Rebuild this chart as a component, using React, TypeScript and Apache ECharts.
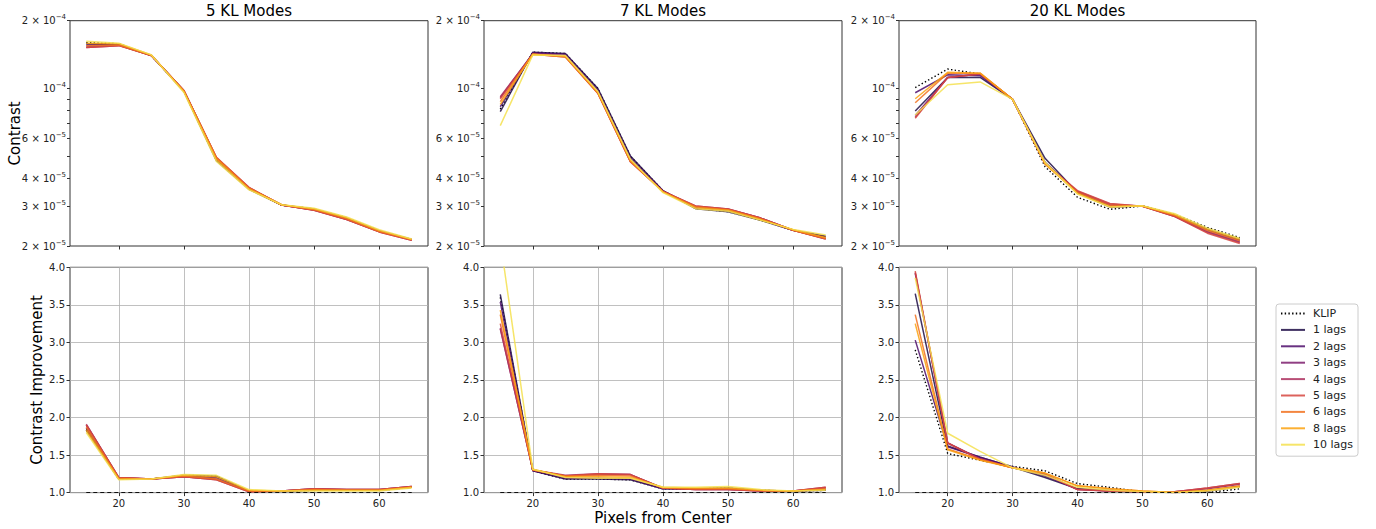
import React, { useEffect, useRef } from 'react';
import * as echarts from 'echarts';

const radii = [15, 20, 25, 30, 35, 40, 45, 50, 55, 60, 65];
const seriesNames = ['KLIP', '1 lags', '2 lags', '3 lags', '4 lags', '5 lags', '6 lags', '8 lags', '10 lags'];
const lineColors = ['#000000', '#1d0c45', '#4d0d6b', '#7d1d6d', '#ab2f5e', '#d6473f', '#f1711f', '#fca20f', '#f4e04f'];
const panelTitles = ['5 KL Modes', '7 KL Modes', '20 KL Modes'];
const contrastLabelTicks = [2e-5, 3e-5, 4e-5, 6e-5, 1e-4, 2e-4];
const contrastAllTicks = [2e-5, 3e-5, 4e-5, 5e-5, 6e-5, 7e-5, 8e-5, 9e-5, 1e-4, 2e-4];
const contrastMin = 2e-5;
const contrastMax = 2e-4;
const improvementMin = 1.0;
const improvementMax = 4.0;
const improvementStep = 0.5;
const xTicks = [20, 30, 40, 50, 60];
const xMin = 12.5;
const xMax = 67.5;
const baselineLevel = 1.0;

// Contrast curves (rows follow seriesNames)
const contrast5KL = [
  [1.60e-4, 1.58e-4, 1.40e-4, 9.75e-5, 4.80e-5, 3.58e-5, 3.04e-5, 2.92e-5, 2.67e-5, 2.34e-5, 2.14e-5],
  [1.58e-4, 1.57e-4, 1.40e-4, 9.72e-5, 4.78e-5, 3.57e-5, 3.04e-5, 2.92e-5, 2.66e-5, 2.34e-5, 2.14e-5],
  [1.56e-4, 1.57e-4, 1.40e-4, 9.75e-5, 4.85e-5, 3.60e-5, 3.04e-5, 2.90e-5, 2.65e-5, 2.33e-5, 2.13e-5],
  [1.53e-4, 1.56e-4, 1.40e-4, 9.78e-5, 4.90e-5, 3.62e-5, 3.04e-5, 2.89e-5, 2.63e-5, 2.32e-5, 2.13e-5],
  [1.52e-4, 1.55e-4, 1.40e-4, 9.80e-5, 4.93e-5, 3.63e-5, 3.04e-5, 2.88e-5, 2.62e-5, 2.31e-5, 2.12e-5],
  [1.52e-4, 1.55e-4, 1.40e-4, 9.80e-5, 4.95e-5, 3.64e-5, 3.04e-5, 2.88e-5, 2.62e-5, 2.31e-5, 2.12e-5],
  [1.55e-4, 1.56e-4, 1.40e-4, 9.78e-5, 4.92e-5, 3.62e-5, 3.05e-5, 2.90e-5, 2.64e-5, 2.32e-5, 2.13e-5],
  [1.59e-4, 1.58e-4, 1.41e-4, 9.70e-5, 4.85e-5, 3.58e-5, 3.05e-5, 2.92e-5, 2.67e-5, 2.34e-5, 2.14e-5],
  [1.62e-4, 1.59e-4, 1.41e-4, 9.60e-5, 4.75e-5, 3.55e-5, 3.05e-5, 2.94e-5, 2.69e-5, 2.36e-5, 2.15e-5],
];
const contrast7KL = [
  [8.10e-5, 1.45e-4, 1.43e-4, 1.00e-4, 5.00e-5, 3.52e-5, 2.94e-5, 2.84e-5, 2.60e-5, 2.35e-5, 2.20e-5],
  [7.90e-5, 1.45e-4, 1.43e-4, 1.00e-4, 5.02e-5, 3.52e-5, 2.93e-5, 2.84e-5, 2.60e-5, 2.35e-5, 2.21e-5],
  [8.30e-5, 1.44e-4, 1.42e-4, 9.85e-5, 4.92e-5, 3.51e-5, 2.95e-5, 2.86e-5, 2.62e-5, 2.35e-5, 2.19e-5],
  [9.10e-5, 1.43e-4, 1.40e-4, 9.60e-5, 4.78e-5, 3.50e-5, 2.99e-5, 2.91e-5, 2.66e-5, 2.35e-5, 2.16e-5],
  [9.20e-5, 1.42e-4, 1.39e-4, 9.55e-5, 4.74e-5, 3.50e-5, 3.01e-5, 2.92e-5, 2.66e-5, 2.35e-5, 2.15e-5],
  [9.00e-5, 1.42e-4, 1.38e-4, 9.50e-5, 4.72e-5, 3.49e-5, 3.01e-5, 2.92e-5, 2.66e-5, 2.35e-5, 2.15e-5],
  [8.75e-5, 1.42e-4, 1.38e-4, 9.52e-5, 4.74e-5, 3.48e-5, 2.99e-5, 2.90e-5, 2.64e-5, 2.35e-5, 2.16e-5],
  [8.50e-5, 1.42e-4, 1.39e-4, 9.60e-5, 4.80e-5, 3.47e-5, 2.96e-5, 2.88e-5, 2.62e-5, 2.36e-5, 2.18e-5],
  [6.84e-5, 1.41e-4, 1.40e-4, 9.70e-5, 4.85e-5, 3.45e-5, 2.93e-5, 2.85e-5, 2.60e-5, 2.37e-5, 2.24e-5],
];
const contrast20KL = [
  [1.01e-4, 1.22e-4, 1.16e-4, 8.95e-5, 4.50e-5, 3.29e-5, 2.91e-5, 3.01e-5, 2.76e-5, 2.42e-5, 2.18e-5],
  [7.95e-5, 1.12e-4, 1.12e-4, 8.95e-5, 4.90e-5, 3.45e-5, 2.98e-5, 3.01e-5, 2.74e-5, 2.38e-5, 2.15e-5],
  [9.58e-5, 1.15e-4, 1.14e-4, 8.95e-5, 4.70e-5, 3.45e-5, 3.00e-5, 3.01e-5, 2.73e-5, 2.36e-5, 2.12e-5],
  [7.60e-5, 1.12e-4, 1.16e-4, 8.95e-5, 4.68e-5, 3.48e-5, 3.04e-5, 3.01e-5, 2.71e-5, 2.32e-5, 2.09e-5],
  [7.45e-5, 1.12e-4, 1.16e-4, 8.95e-5, 4.66e-5, 3.50e-5, 3.07e-5, 3.00e-5, 2.70e-5, 2.30e-5, 2.07e-5],
  [7.38e-5, 1.12e-4, 1.16e-4, 8.95e-5, 4.64e-5, 3.52e-5, 3.09e-5, 3.00e-5, 2.70e-5, 2.28e-5, 2.05e-5],
  [8.65e-5, 1.17e-4, 1.17e-4, 8.95e-5, 4.62e-5, 3.46e-5, 3.03e-5, 3.01e-5, 2.73e-5, 2.34e-5, 2.11e-5],
  [9.01e-5, 1.18e-4, 1.17e-4, 8.95e-5, 4.64e-5, 3.42e-5, 2.99e-5, 3.01e-5, 2.75e-5, 2.37e-5, 2.14e-5],
  [7.63e-5, 1.04e-4, 1.07e-4, 8.95e-5, 4.70e-5, 3.40e-5, 2.98e-5, 3.02e-5, 2.78e-5, 2.40e-5, 2.16e-5],
];

// Contrast improvement curves (rows follow seriesNames)
const improvement5KL = [
  [1.84, 1.18, 1.18, 1.23, 1.22, 1.02, 1.02, 1.03, 1.03, 1.03, 1.07],
  [1.83, 1.18, 1.18, 1.23, 1.22, 1.02, 1.02, 1.03, 1.03, 1.03, 1.07],
  [1.86, 1.19, 1.18, 1.22, 1.20, 1.02, 1.02, 1.04, 1.03, 1.03, 1.07],
  [1.90, 1.20, 1.18, 1.21, 1.18, 1.02, 1.02, 1.05, 1.04, 1.04, 1.08],
  [1.91, 1.20, 1.18, 1.21, 1.17, 1.01, 1.02, 1.05, 1.04, 1.04, 1.08],
  [1.90, 1.20, 1.18, 1.21, 1.17, 1.01, 1.02, 1.05, 1.04, 1.04, 1.08],
  [1.87, 1.19, 1.18, 1.22, 1.18, 1.02, 1.02, 1.04, 1.03, 1.03, 1.07],
  [1.83, 1.18, 1.18, 1.23, 1.21, 1.03, 1.02, 1.03, 1.03, 1.03, 1.07],
  [1.80, 1.17, 1.18, 1.24, 1.23, 1.04, 1.02, 1.02, 1.02, 1.02, 1.06],
];
const improvement7KL = [
  [3.60, 1.29, 1.18, 1.18, 1.17, 1.05, 1.05, 1.06, 1.03, 1.02, 1.03],
  [3.64, 1.29, 1.18, 1.18, 1.17, 1.05, 1.05, 1.06, 1.03, 1.02, 1.03],
  [3.54, 1.29, 1.19, 1.19, 1.18, 1.05, 1.05, 1.05, 1.03, 1.02, 1.04],
  [3.19, 1.30, 1.22, 1.24, 1.24, 1.06, 1.04, 1.04, 1.02, 1.02, 1.06],
  [3.18, 1.30, 1.23, 1.25, 1.24, 1.06, 1.04, 1.04, 1.02, 1.02, 1.07],
  [3.25, 1.30, 1.22, 1.25, 1.24, 1.06, 1.04, 1.04, 1.02, 1.02, 1.07],
  [3.37, 1.30, 1.22, 1.23, 1.22, 1.06, 1.05, 1.05, 1.03, 1.02, 1.05],
  [3.43, 1.31, 1.21, 1.21, 1.20, 1.07, 1.06, 1.06, 1.03, 1.02, 1.04],
  [4.36, 1.31, 1.20, 1.19, 1.19, 1.07, 1.07, 1.08, 1.04, 1.02, 1.03],
];
const improvement20KL = [
  [2.90, 1.52, 1.43, 1.35, 1.29, 1.12, 1.07, 1.01, 1.00, 1.00, 1.05],
  [3.65, 1.62, 1.47, 1.34, 1.20, 1.05, 1.02, 1.01, 1.00, 1.02, 1.08],
  [3.03, 1.61, 1.47, 1.34, 1.22, 1.05, 1.03, 1.01, 1.00, 1.02, 1.08],
  [3.92, 1.66, 1.45, 1.33, 1.24, 1.04, 1.02, 1.01, 1.01, 1.05, 1.11],
  [3.93, 1.66, 1.45, 1.33, 1.25, 1.04, 1.02, 1.01, 1.01, 1.06, 1.12],
  [3.95, 1.66, 1.44, 1.33, 1.25, 1.04, 1.02, 1.01, 1.01, 1.06, 1.12],
  [3.37, 1.58, 1.44, 1.33, 1.26, 1.09, 1.05, 1.02, 1.00, 1.03, 1.09],
  [3.25, 1.57, 1.43, 1.33, 1.26, 1.09, 1.05, 1.02, 1.00, 1.03, 1.08],
  [3.86, 1.79, 1.55, 1.33, 1.23, 1.07, 1.03, 1.01, 1.00, 1.02, 1.07],
];

const contrastPanels = [contrast5KL, contrast7KL, contrast20KL];
const improvementPanels = [improvement5KL, improvement7KL, improvement20KL];

const FONT = '"DejaVu Sans", sans-serif';
const gridLefts = [70, 484, 899];
const gridWidths = [358, 358, 357];
const topRowTop = 20.7;
const bottomRowTop = 267.3;
const rowHeight = 225.3;

function logTickLabel(v: number): string {
  const e = Math.floor(v + 1e-9);
  const m = Math.round(Math.pow(10, v - e));
  const exp = '\u2212' + Math.abs(e);
  return m === 1 ? `{b|10}{s|${exp}}` : `{b|${m} \u00d7 10}{s|${exp}}`;
}

function buildOption() {
  const grids: any[] = [];
  const xAxes: any[] = [];
  const yAxes: any[] = [];
  const series: any[] = [];
  const axisColor = '#222';
  for (let row = 0; row < 2; row++) {
    for (let p = 0; p < 3; p++) {
      grids.push({
        left: gridLefts[p],
        width: gridWidths[p],
        top: row === 0 ? topRowTop : bottomRowTop,
        height: rowHeight,
        show: true,
        borderColor: '#333',
        borderWidth: 1,
        backgroundColor: 'transparent',
        containLabel: false,
      });
      const idx = row * 3 + p;
      xAxes.push({
        type: 'value',
        gridIndex: idx,
        min: xMin,
        max: xMax,
        axisLine: { show: false },
        axisTick: { show: true, length: 3.5, customValues: xTicks, lineStyle: { color: '#333' } },
        axisLabel: {
          show: row === 1,
          customValues: xTicks,
          fontSize: 10,
          fontFamily: FONT,
          color: axisColor,
          margin: 6,
        },
        splitLine: { show: row === 1, lineStyle: { color: '#b0b0b0', width: 0.8 } },
      });
      if (row === 0) {
        yAxes.push({
          type: 'value',
          gridIndex: idx,
          min: Math.log10(contrastMin),
          max: Math.log10(contrastMax),
          axisLine: { show: false },
          axisTick: {
            show: true,
            length: 3,
            customValues: contrastAllTicks.map((t) => Math.log10(t)),
            lineStyle: { color: '#333' },
          },
          axisLabel: {
            customValues: contrastLabelTicks.map((t) => Math.log10(t)),
            formatter: (v: number) => logTickLabel(v),
            margin: 4,
            color: axisColor,
            fontFamily: FONT,
            rich: {
              b: { fontSize: 10, fontFamily: FONT, color: axisColor, lineHeight: 14 },
              s: { fontSize: 7, fontFamily: FONT, color: axisColor, lineHeight: 7, verticalAlign: 'top' },
            },
          },
          splitLine: { show: false },
        });
      } else {
        yAxes.push({
          type: 'value',
          gridIndex: idx,
          min: improvementMin,
          max: improvementMax,
          interval: improvementStep,
          axisLine: { show: false },
          axisTick: { show: true, length: 3.5, lineStyle: { color: '#333' } },
          axisLabel: {
            formatter: (v: number) => v.toFixed(1),
            fontSize: 10,
            fontFamily: FONT,
            color: axisColor,
            margin: 5,
          },
          splitLine: { show: true, lineStyle: { color: '#b0b0b0', width: 0.8 } },
        });
      }
    }
  }

  const styleFor = (s: number) =>
    s === 0
      ? { color: '#000', width: 1.4, type: [1.4, 2.3], opacity: 1 }
      : { color: lineColors[s], width: 1.5, opacity: 0.85 };

  for (let p = 0; p < 3; p++) {
    // baseline in bottom panels
    series.push({
      type: 'line',
      name: 'baseline',
      xAxisIndex: p + 3,
      yAxisIndex: p + 3,
      data: [
        [radii[0], baselineLevel],
        [radii[radii.length - 1], baselineLevel],
      ],
      showSymbol: false,
      symbol: 'none',
      lineStyle: { color: '#000', width: 1, type: [4, 3] },
      silent: true,
      z: 3,
    });
    for (let s = 0; s < seriesNames.length; s++) {
      const ls = styleFor(s);
      series.push({
        type: 'line',
        name: seriesNames[s],
        xAxisIndex: p,
        yAxisIndex: p,
        data: radii.map((r, i) => [r, Math.log10(contrastPanels[p][s][i])]),
        showSymbol: false,
        symbol: 'none',
        color: ls.color,
        lineStyle: ls,
        silent: true,
        z: 2,
      });
      series.push({
        type: 'line',
        name: seriesNames[s],
        xAxisIndex: p + 3,
        yAxisIndex: p + 3,
        data: radii.map((r, i) => [r, improvementPanels[p][s][i]]),
        showSymbol: false,
        symbol: 'none',
        color: ls.color,
        lineStyle: ls,
        silent: true,
        z: 2,
      });
    }
  }

  const textStyle = { fontFamily: FONT, fill: '#000', align: 'center', verticalAlign: 'middle' };
  const graphic: any[] = [];
  panelTitles.forEach((t, i) => {
    graphic.push({
      type: 'text',
      x: gridLefts[i] + gridWidths[i] / 2,
      y: 10.5,
      style: { ...textStyle, text: t, fontSize: 15 },
    });
  });
  graphic.push({
    type: 'text',
    x: 15,
    y: topRowTop + rowHeight / 2,
    rotation: Math.PI / 2,
    style: { ...textStyle, text: 'Contrast', fontSize: 15 },
  });
  graphic.push({
    type: 'text',
    x: 37,
    y: bottomRowTop + rowHeight / 2,
    rotation: Math.PI / 2,
    style: { ...textStyle, text: 'Contrast Improvement', fontSize: 15 },
  });
  graphic.push({
    type: 'text',
    x: gridLefts[1] + gridWidths[1] / 2,
    y: 518,
    style: { ...textStyle, text: 'Pixels from Center', fontSize: 15 },
  });

  return {
    animation: false,
    backgroundColor: '#fff',
    grid: grids,
    xAxis: xAxes,
    yAxis: yAxes,
    series,
    graphic,
    legend: {
      data: seriesNames,
      orient: 'vertical',
      left: 1276,
      top: 304,
      itemWidth: 24,
      itemHeight: 10,
      itemGap: 5.4,
      padding: [4, 5, 6, 4],
      borderColor: '#ccc',
      borderWidth: 1,
      borderRadius: 3,
      backgroundColor: '#fff',
      selectedMode: false,
      itemStyle: { opacity: 0, borderWidth: 0 },
      textStyle: { fontSize: 11, fontFamily: FONT, color: '#222', padding: [0, 0, 0, 3] },
    },
  };
}

export default function App() {
  const ref = useRef<HTMLDivElement>(null);
  useEffect(() => {
    const chart = echarts.init(ref.current!, null, { renderer: 'svg' });
    chart.setOption(buildOption() as any);
    return () => chart.dispose();
  }, []);
  return (
    <div
      ref={ref}
      style={{ position: 'fixed', left: 0, top: 0, width: 1376, height: 529, background: '#fff' }}
    />
  );
}
